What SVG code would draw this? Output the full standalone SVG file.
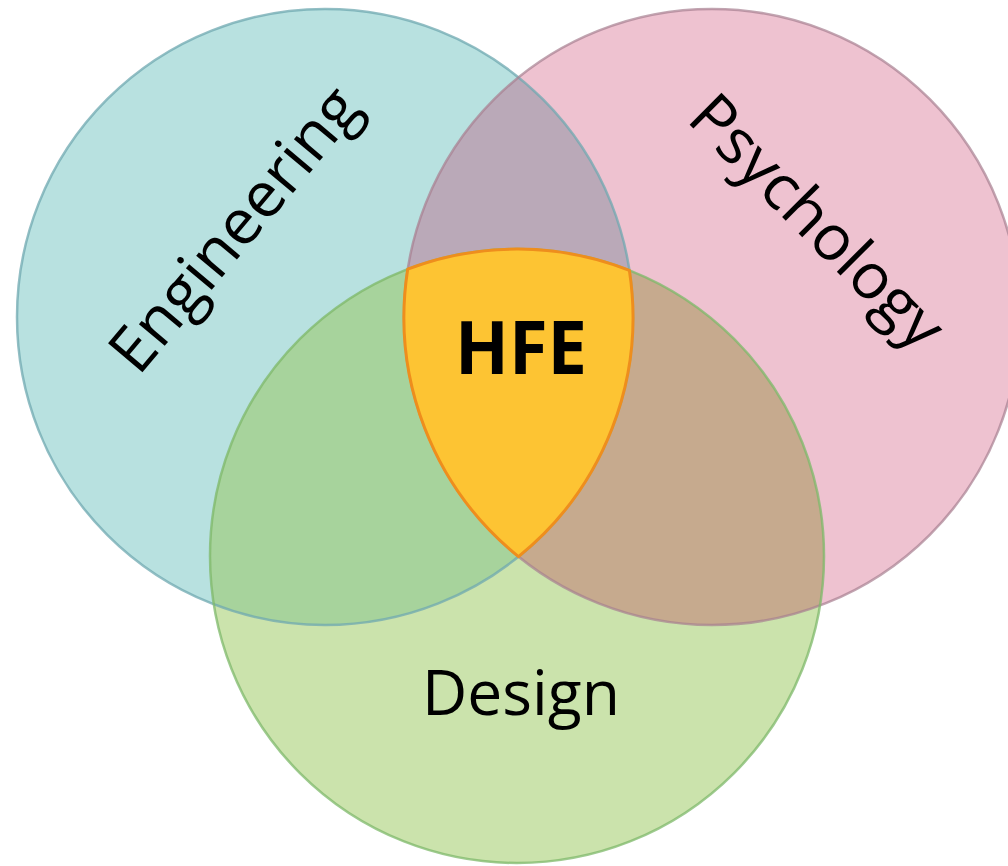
<svg xmlns="http://www.w3.org/2000/svg" width="1008" height="866" viewBox="0 0 1008 866">
  <style>
    .label { font-family: "Open Sans", "Noto Sans", "Liberation Sans", sans-serif; fill: #000; }
    .outline { fill: none; stroke-width: 2.5; }
  </style>
  <defs>
    <clipPath id="clip-eng"><circle cx="325" cy="317" r="308"/></clipPath>
    <clipPath id="clip-psy"><circle cx="712" cy="317" r="308"/></clipPath>
  </defs>

  <rect width="1008" height="866" fill="#ffffff"/>

  <!-- base discs -->
  <g id="engineering">
    <circle cx="325" cy="317" r="308" fill="#B8E1E0"/>
  </g>
  <g id="psychology">
    <circle cx="712" cy="317" r="308" fill="#EEC2D0"/>
  </g>
  <g id="design">
    <circle cx="517" cy="556" r="307" fill="#CBE3AC"/>
  </g>

  <!-- pairwise overlaps -->
  <g id="overlaps">
    <circle cx="712" cy="317" r="308" fill="#BAA9B8" clip-path="url(#clip-eng)"/>
    <circle cx="517" cy="556" r="307" fill="#A7D39C" clip-path="url(#clip-eng)"/>
    <circle cx="517" cy="556" r="307" fill="#C6AA8E" clip-path="url(#clip-psy)"/>
  </g>

  <!-- circle outlines -->
  <g id="outlines">
    <circle class="outline" cx="325" cy="317" r="308" stroke="#6FA8B0" stroke-opacity="0.75"/>
    <circle class="outline" cx="712" cy="317" r="308" stroke="#A77F90" stroke-opacity="0.7"/>
    <circle class="outline" cx="517" cy="556" r="307" stroke="#7DB86A" stroke-opacity="0.75"/>
  </g>

  <!-- centre: intersection of all three -->
  <g id="hfe">
    <path d="M407.7,269.2 A307,307 0 0 1 629.4,270.4 A308,308 0 0 1 518.5,556.6 A308,308 0 0 1 407.7,269.2 Z"
          fill="#FDC433" stroke="#EE8E1D" stroke-width="3" stroke-linejoin="round"/>
    <text class="label" x="521" y="374" font-size="73" font-weight="bold" text-anchor="middle" textLength="132" lengthAdjust="spacingAndGlyphs">HFE</text>
  </g>

  <!-- circle labels -->
  <g id="labels">
    <text class="label" font-size="63" text-anchor="middle" textLength="350" lengthAdjust="spacingAndGlyphs" transform="translate(251,243) rotate(-50)">Engineering</text>
    <text class="label" font-size="63" text-anchor="middle" textLength="330" lengthAdjust="spacingAndGlyphs" transform="translate(802,237) rotate(45)">Psychology</text>
    <text class="label" x="521" y="715" font-size="63" text-anchor="middle" textLength="198" lengthAdjust="spacingAndGlyphs">Design</text>
  </g>
</svg>
